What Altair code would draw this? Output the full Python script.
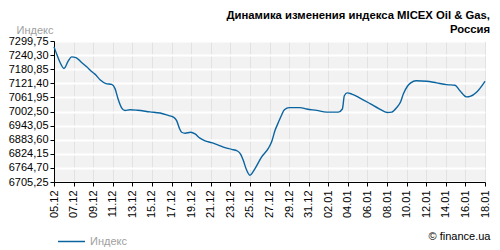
import altair as alt
import pandas as pd

# day offsets from 05.12.2014 and index values
day_offsets = [0, 0.28, 0.62, 1.02, 1.46, 1.8, 2.24, 2.82, 3.34, 3.84, 4.18, 4.76, 5.3,
               5.88, 6.22, 6.56, 6.9, 7.24, 7.76, 8.5, 9.8, 10.82, 11.66, 12.18, 12.52,
               12.8, 13.04, 13.38, 13.96, 14.4, 14.9, 15.42, 16.1, 16.78, 17.46, 18.14,
               18.72, 19.06, 19.32, 19.6, 20.0, 20.52, 21.2, 21.88, 22.22, 22.56, 22.9,
               23.24, 23.52, 24.02, 25.12, 25.8, 26.82, 27.84, 29.02, 29.44, 29.64, 29.94,
               30.4, 31.24, 32.26, 33.2, 34.02, 34.48, 34.98, 35.4, 35.66, 36.08, 36.42,
               36.96, 38.04, 39.06, 40.1, 40.94, 41.44, 42.14, 42.48, 43.16, 44.0]
index_values = [7275, 7244, 7209, 7184, 7216, 7233, 7230, 7209, 7191, 7171, 7160, 7134, 7120,
                7117, 7100, 7053, 7018, 7007, 7010, 7008, 7001, 6996, 6986, 6979, 6964,
                6932, 6915, 6911, 6915, 6908, 6890, 6879, 6871, 6861, 6850, 6843,
                6836, 6822, 6797, 6762, 6734, 6762, 6811, 6847, 6875, 6922, 6956,
                6988, 7010, 7019, 7019, 7013, 7007, 7000, 7000, 7013, 7069, 7081,
                7076, 7059, 7036, 7014, 6998, 7000, 7019, 7045, 7076, 7109, 7123,
                7132, 7130, 7123, 7116, 7113, 7090, 7064, 7066, 7085, 7130]
start_date = "2014-12-05"
series_name = "Индекс"

tick_dates = ["2014-12-05", "2014-12-07", "2014-12-09", "2014-12-11", "2014-12-13",
              "2014-12-15", "2014-12-17", "2014-12-19", "2014-12-21", "2014-12-23",
              "2014-12-25", "2014-12-27", "2014-12-29", "2014-12-31", "2015-01-02",
              "2015-01-04", "2015-01-06", "2015-01-08", "2015-01-10", "2015-01-12",
              "2015-01-14", "2015-01-16", "2015-01-18"]
y_ticks = [6705.25, 6764.70, 6824.15, 6883.60, 6943.05, 7002.50, 7061.95,
           7121.40, 7180.85, 7240.30, 7299.75]
title_lines = ["Динамика изменения индекса MICEX Oil & Gas,", "Россия"]
credit = "© finance.ua"

FONT = "Liberation Sans"
LINE_COLOR = "#0a64a0"

times = pd.Timestamp(start_date) + pd.to_timedelta(day_offsets, unit="D")
df = pd.DataFrame({
    "date": times.strftime("%Y-%m-%dT%H:%M:%S"),
    "value": index_values,
    "series": series_name,
})

tick_vals = [alt.DateTime(year=int(d[:4]), month=int(d[5:7]), date=int(d[8:10]))
             for d in tick_dates]

chart = alt.Chart(df).mark_line(
    interpolate="monotone", strokeWidth=1.4
).encode(
    x=alt.X("date:T",
            scale=alt.Scale(domain=[tick_vals[0], tick_vals[-1]], nice=False),
            axis=alt.Axis(values=tick_vals, format="%d.%m", labelAngle=270,
                          labelAlign="right", labelBaseline="middle", labelPadding=4,
                          grid=True, gridColor="#e2e2e2", gridWidth=1,
                          title=credit, titleX=436, titleY=57, titleAlign="right",
                          titleBaseline="alphabetic", titleFontWeight="normal",
                          titleFontSize=11, titleColor="#000000", titleFont=FONT)),
    y=alt.Y("value:Q",
            scale=alt.Scale(domain=[y_ticks[0], y_ticks[-1]], nice=False, zero=False),
            axis=alt.Axis(values=y_ticks,
                          labelExpr="replace(format(datum.value, '.2f'), '.', ',')",
                          grid=True, gridColor="#ffffff", gridWidth=2, labelPadding=2,
                          title=series_name, titleAngle=0, titleX=-38, titleY=-8,
                          titleAlign="left", titleBaseline="alphabetic",
                          titleFontWeight="normal", titleFontSize=11,
                          titleColor="#a0a0a0", titleFont=FONT)),
    color=alt.Color("series:N", scale=alt.Scale(range=[LINE_COLOR]),
                    legend=alt.Legend(orient="none", legendX=3, legendY=186, title=None,
                                      symbolType="stroke", symbolSize=729,
                                      symbolStrokeWidth=1.5, labelColor="#a0a0a0",
                                      labelFontSize=11, labelFont=FONT)),
).properties(
    width=431,
    height=141,
    autosize="none",
    padding={"left": 54, "top": 41, "right": 15, "bottom": 68},
    title=alt.TitleParams(text=title_lines, anchor="end", fontSize=11.3, font=FONT,
                          fontWeight="bold", color="#000000", offset=6, lineHeight=14,
                          dy=17),
).configure_view(
    fill="#f2f2f2", stroke=None
).configure_axis(
    labelFont=FONT, labelFontSize=11, labelColor="#000000",
    domainColor="#000000", tickColor="#000000", tickSize=4, domainWidth=1,
)

chart.save("out.html", embed_options={"renderer": "svg", "actions": False})
